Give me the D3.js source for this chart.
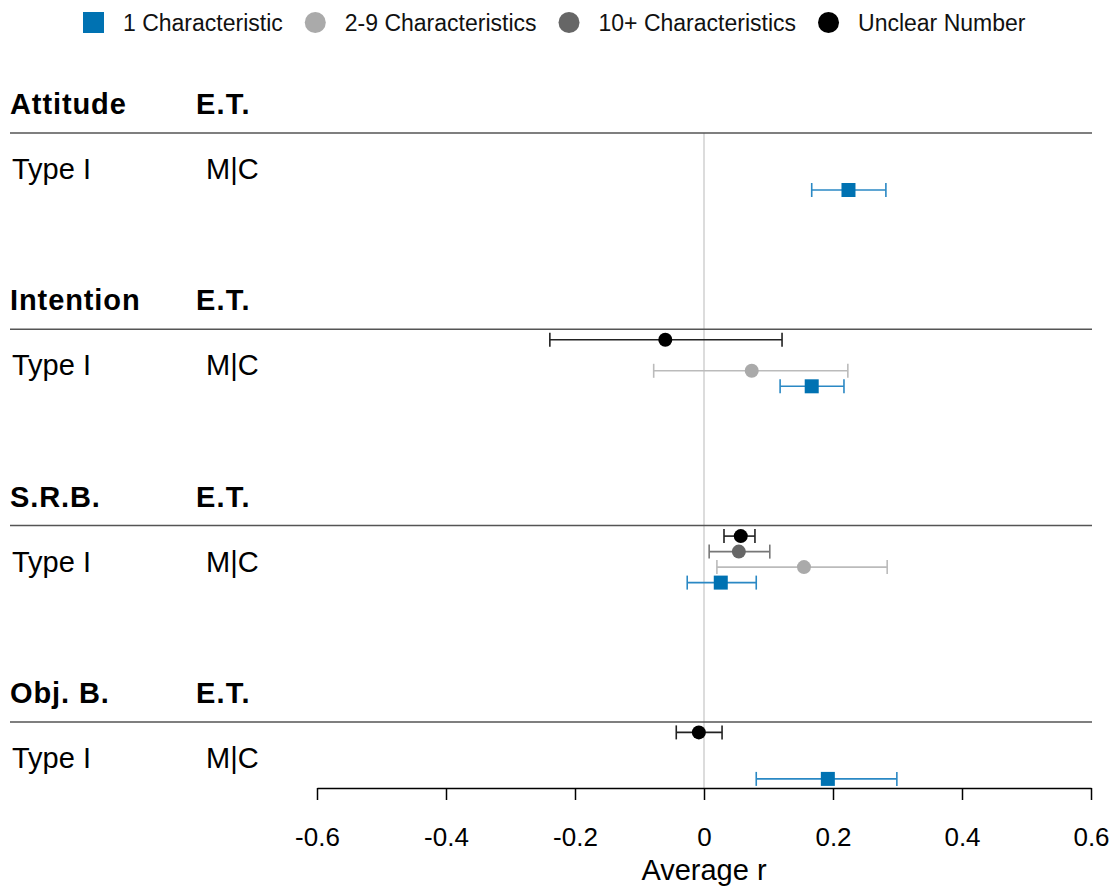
<!DOCTYPE html>
<html>
<head>
<meta charset="utf-8">
<script src="https://cdn.jsdelivr.net/npm/d3@7"></script>
<style>
  html, body { margin: 0; padding: 0; background: #fff; }
  svg { display: block; font-family: "Liberation Sans", Arial, sans-serif; }
</style>
</head>
<body>
<svg id="chart" width="1114" height="888"></svg>
<script>
// ---------- data ----------
const outcomes = ["Attitude", "Intention", "S.R.B.", "Obj. B."];
const seriesNames = ["Unclear Number", "10+ Characteristics", "2-9 Characteristics", "1 Characteristic"];
const legendOrder = ["1 Characteristic", "2-9 Characteristics", "10+ Characteristics", "Unclear Number"];
const rowLabel = "Type I";
const etLabel = "M|C";
const etHeader = "E.T.";
// [outcome, series, estimate, lower, upper]
const attitudeValues = [
  ["Attitude", "1 Characteristic", 0.224, 0.167, 0.282]
];
const intentionValues = [
  ["Intention", "Unclear Number", -0.060, -0.239, 0.121],
  ["Intention", "2-9 Characteristics", 0.074, -0.078, 0.223],
  ["Intention", "1 Characteristic", 0.167, 0.118, 0.217]
];
const srbValues = [
  ["S.R.B.", "Unclear Number", 0.057, 0.031, 0.079],
  ["S.R.B.", "10+ Characteristics", 0.054, 0.008, 0.102],
  ["S.R.B.", "2-9 Characteristics", 0.155, 0.020, 0.284],
  ["S.R.B.", "1 Characteristic", 0.026, -0.026, 0.081]
];
const objbValues = [
  ["Obj. B.", "Unclear Number", -0.008, -0.043, 0.028],
  ["Obj. B.", "1 Characteristic", 0.192, 0.081, 0.299]
];
const tickValues = [-0.6, -0.4, -0.2, 0, 0.2, 0.4, 0.6];
const tickLabels = ["-0.6", "-0.4", "-0.2", "0", "0.2", "0.4", "0.6"];
const xTitle = "Average r";

// ---------- styles ----------
const colors = {
  "1 Characteristic": "#0072B2",
  "2-9 Characteristics": "#AAAAAA",
  "10+ Characteristics": "#666666",
  "Unclear Number": "#000000"
};
const barColors = {
  "1 Characteristic": "#2A88C4",
  "2-9 Characteristics": "#BBBBBB",
  "10+ Characteristics": "#777777",
  "Unclear Number": "#222222"
};

const rows = [...attitudeValues, ...intentionValues, ...srbValues, ...objbValues]
  .map(d => ({ outcome: d[0], series: d[1], est: d[2], lo: d[3], hi: d[4] }));

const svg = d3.select("#chart");

const x = d3.scaleLinear().domain([-0.6, 0.6]).range([317, 1091]);
const groupY = d3.scaleBand().domain(outcomes).range([133, 133 + 4 * 196.3]).paddingInner(0).paddingOuter(0);
const seriesY = d3.scalePoint().domain(seriesNames).range([10.5, 57]);

// zero line
svg.append("line")
  .attr("x1", x(0)).attr("x2", x(0))
  .attr("y1", groupY("Attitude")).attr("y2", 788)
  .attr("stroke", "#d0d0d0").attr("stroke-width", 1.5);

// group headers
const g = svg.selectAll("g.grp").data(outcomes).enter().append("g").attr("class", "grp");
g.append("text")
  .attr("x", 10).attr("y", d => groupY(d) - 19)
  .attr("font-size", 29).attr("font-weight", "bold").attr("letter-spacing", 0.9).attr("fill", "#000")
  .text(d => d);
g.append("text")
  .attr("x", 196).attr("y", d => groupY(d) - 19)
  .attr("font-size", 29).attr("font-weight", "bold").attr("letter-spacing", 1.2).attr("fill", "#000")
  .text(etHeader);
g.append("line")
  .attr("x1", 10).attr("x2", 1092)
  .attr("y1", d => groupY(d)).attr("y2", d => groupY(d))
  .attr("stroke", "#555").attr("stroke-width", 1.5);
g.append("text")
  .attr("x", 12).attr("y", d => groupY(d) + 46)
  .attr("font-size", 29).attr("fill", "#000")
  .text(rowLabel);
g.append("text")
  .attr("x", 206).attr("y", d => groupY(d) + 46)
  .attr("font-size", 29).attr("fill", "#000")
  .text(etLabel);

// error bars
const yOf = d => groupY(d.outcome) + seriesY(d.series);
const eb = svg.selectAll("g.eb").data(rows).enter().append("g").attr("class", "eb");
eb.append("line")
  .attr("x1", d => x(d.lo)).attr("x2", d => x(d.hi))
  .attr("y1", yOf).attr("y2", yOf)
  .attr("stroke", d => barColors[d.series]).attr("stroke-width", 1.6);
eb.append("line")
  .attr("x1", d => x(d.lo)).attr("x2", d => x(d.lo))
  .attr("y1", d => yOf(d) - 7).attr("y2", d => yOf(d) + 7)
  .attr("stroke", d => barColors[d.series]).attr("stroke-width", 1.6);
eb.append("line")
  .attr("x1", d => x(d.hi)).attr("x2", d => x(d.hi))
  .attr("y1", d => yOf(d) - 7).attr("y2", d => yOf(d) + 7)
  .attr("stroke", d => barColors[d.series]).attr("stroke-width", 1.6);

// markers
function drawMarker(sel, series, cx, cy, size) {
  if (series === "1 Characteristic") {
    sel.append("rect")
      .attr("x", cx - size / 2).attr("y", cy - size / 2)
      .attr("width", size).attr("height", size)
      .attr("fill", colors[series]);
  } else {
    sel.append("circle")
      .attr("cx", cx).attr("cy", cy).attr("r", size / 2)
      .attr("fill", colors[series]);
  }
}
rows.forEach(d => drawMarker(svg, d.series, x(d.est), yOf(d), 14));

// x axis
const axis = d3.axisBottom(x)
  .tickValues(tickValues)
  .tickFormat((d, i) => tickLabels[i])
  .tickSize(12)
  .tickSizeOuter(0);
const ax = svg.append("g").attr("transform", "translate(0,788)").call(axis);
ax.select(".domain").attr("stroke", "#000").attr("stroke-width", 1.5);
ax.selectAll(".tick line").attr("stroke", "#000").attr("stroke-width", 1.5);
ax.selectAll(".tick text")
  .attr("font-size", 26).attr("fill", "#000")
  .attr("font-family", "'Liberation Sans', Arial, sans-serif")
  .attr("y", 58).attr("dy", 0);

svg.append("text")
  .attr("x", x(0)).attr("y", 880)
  .attr("text-anchor", "middle")
  .attr("font-size", 29).attr("fill", "#000")
  .text(xTitle);

// legend: laid out sequentially (icon, gap, label, gap)
const iconSize = 21, iconGap = 19, itemGap = 22;
let cursor = 83;
legendOrder.forEach(s => {
  const item = svg.append("g").attr("class", "lg");
  drawMarker(item, s, cursor + iconSize / 2, 22.5, iconSize);
  const t = item.append("text")
    .attr("x", cursor + iconSize + iconGap).attr("y", 31)
    .attr("font-size", 23).attr("fill", "#111")
    .text(s);
  cursor = cursor + iconSize + iconGap + t.node().getComputedTextLength() + itemGap;
});
</script>
</body>
</html>
